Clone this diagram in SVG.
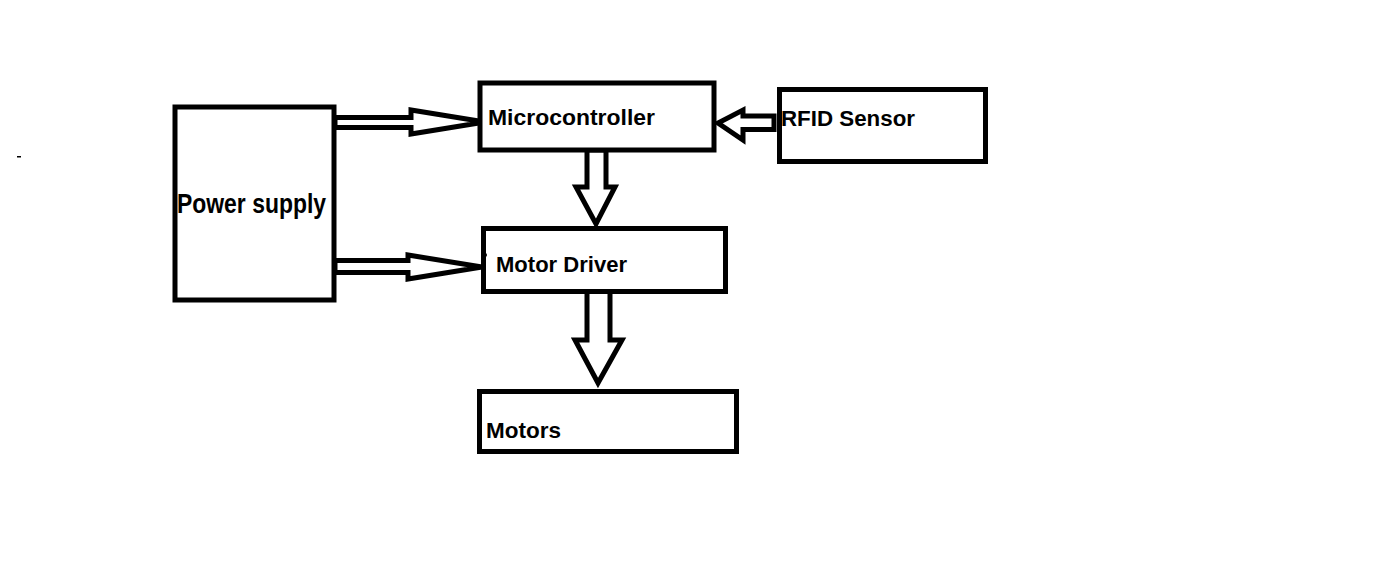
<svg xmlns="http://www.w3.org/2000/svg" width="1393" height="576" viewBox="0 0 1393 576">
<style>
.box{fill:#fff;stroke:#000;stroke-width:5}
.arr{fill:#fff;stroke:#000;stroke-width:5;stroke-linejoin:miter}
.lbl{font-family:"Liberation Sans",Arial,sans-serif;font-weight:bold;font-size:22.5px;fill:#000}
.ps{font-family:"Liberation Sans",Arial,sans-serif;font-weight:bold;font-size:28px;fill:#000}
</style>
<rect width="1393" height="576" fill="#fff"/>
<rect x="17" y="156" width="4" height="1.5" fill="#000"/>
<g id="connectors">
<polygon class="arr" points="335,117.5 411,117.5 411,110 485,122 411,134 411,127.5 335,127.5"/>
<polygon class="arr" points="335,260.5 408,260.5 408,255 482,267 408,279 408,272.5 335,272.5"/>
<polygon class="arr" points="774,116 743,116 743,110 718,123 743,140 743,129.5 774,129.5"/>
<polygon class="arr" points="587,150 587,187 576,187 596,224 615,187 606,187 606,150"/>
<polygon class="arr" points="587,291 587,340 575,340 598,383 622,340 610,340 610,291"/>
</g>
<g id="power-supply">
<rect class="box" x="175" y="107" width="159" height="193"/>
<text class="ps" x="177" y="213" textLength="149" lengthAdjust="spacingAndGlyphs">Power supply</text>
</g>
<g id="microcontroller">
<rect class="box" x="480" y="83" width="234" height="67"/>
<text class="lbl" x="488" y="125" textLength="167" lengthAdjust="spacingAndGlyphs">Microcontroller</text>
</g>
<g id="rfid-sensor">
<rect class="box" x="779.5" y="89.5" width="206" height="72"/>
<text class="lbl" x="781" y="126" textLength="134" lengthAdjust="spacingAndGlyphs">RFID Sensor</text>
</g>
<g id="motor-driver">
<rect class="box" x="483.5" y="228.5" width="242" height="63"/>
<circle cx="485" cy="255" r="2" fill="#000"/>
<text class="lbl" x="496" y="272" textLength="131" lengthAdjust="spacingAndGlyphs">Motor Driver</text>
</g>
<g id="motors">
<rect class="box" x="479.5" y="391.5" width="257" height="60"/>
<text class="lbl" x="486" y="438" textLength="75" lengthAdjust="spacingAndGlyphs">Motors</text>
</g>
</svg>
